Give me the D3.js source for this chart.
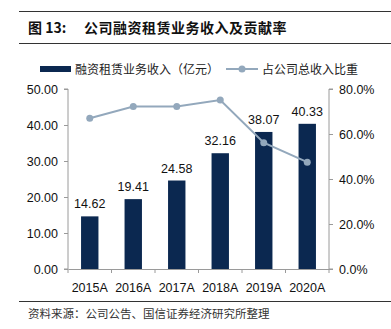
<!doctype html>
<html>
<head>
<script src="https://d3js.org/d3.v7.min.js"></script>
<style>
body { margin: 0; background: #fff; }
text { font-family: "Liberation Sans", Arial, sans-serif; }
.cjk { font-family: "Noto Sans CJK SC", sans-serif; }
</style>
</head>
<body>
<svg width="391" height="329"></svg>
<script>
// data
var years = ["2015A", "2016A", "2017A", "2018A", "2019A", "2020A"];
var revenue = [14.62, 19.41, 24.58, 32.16, 38.07, 40.33];
var share = [67.0, 72.2, 72.2, 75.1, 56.1, 47.5];
var leftTicks = [0, 10, 20, 30, 40, 50];
var rightTicks = [0, 20, 40, 60, 80];

var svg = d3.select("svg");
var plotL = 68, plotR = 329, plotT = 89, plotB = 269;
var navy = "#0b2850", lineCol = "#93a8bc", axisCol = "#9a9a9a";

// frame lines + title
svg.append("line").attr("x1", 19).attr("x2", 391).attr("y1", 11.5).attr("y2", 11.5)
  .attr("stroke", "#333").attr("stroke-width", 1);
svg.append("line").attr("x1", 19).attr("x2", 391).attr("y1", 43.5).attr("y2", 43.5)
  .attr("stroke", "#333").attr("stroke-width", 1);
svg.append("line").attr("x1", 19).attr("x2", 391).attr("y1", 301.5).attr("y2", 301.5)
  .attr("stroke", "#333").attr("stroke-width", 1);

svg.append("text").attr("class", "cjk").attr("x", 28).attr("y", 33)
  .style("font-size", "14px").style("font-weight", "bold").attr("fill", "#111")
  .text("图 13:");
svg.append("text").attr("class", "cjk").attr("x", 84).attr("y", 33)
  .style("font-size", "14px").style("font-weight", "bold").attr("fill", "#111")
  .style("letter-spacing", "0.5px")
  .text("公司融资租赁业务收入及贡献率");

svg.append("text").attr("class", "cjk").attr("x", 28).attr("y", 318)
  .style("font-size", "11.5px").attr("fill", "#333")
  .text("资料来源：公司公告、国信证券经济研究所整理");

// legend
svg.append("rect").attr("x", 40).attr("y", 66).attr("width", 31).attr("height", 6).attr("fill", navy);
svg.append("text").attr("class", "cjk").attr("x", 75).attr("y", 73.5)
  .style("font-size", "12px").attr("fill", "#222").text("融资租赁业务收入（亿元）");
svg.append("line").attr("x1", 226).attr("x2", 258).attr("y1", 69).attr("y2", 69)
  .attr("stroke", lineCol).attr("stroke-width", 2);
svg.append("circle").attr("cx", 242).attr("cy", 69).attr("r", 3.5).attr("fill", lineCol);
svg.append("text").attr("class", "cjk").attr("x", 262).attr("y", 73.5)
  .style("font-size", "12px").attr("fill", "#222").text("占公司总收入比重");

// scales
var x = d3.scaleBand().domain(years).range([plotL, plotR]).padding(0);
var yL = d3.scaleLinear().domain([0, 50]).range([plotB, plotT]);
var yR = d3.scaleLinear().domain([0, 80]).range([plotB, plotT]);
var barW = x.bandwidth() * 0.4;

// bars
svg.append("g").selectAll("rect").data(years).enter().append("rect")
  .attr("x", (d) => x(d) + x.bandwidth() / 2 - barW / 2)
  .attr("y", (d, i) => yL(revenue[i]))
  .attr("width", barW)
  .attr("height", (d, i) => plotB - yL(revenue[i]))
  .attr("fill", navy);

svg.append("g").selectAll("text").data(years).enter().append("text")
  .attr("x", (d) => x(d) + x.bandwidth() / 2)
  .attr("y", (d, i) => yL(revenue[i]) - 8)
  .attr("text-anchor", "middle")
  .style("font-size", "12.5px").attr("fill", "#111")
  .text((d, i) => revenue[i].toFixed(2));

// line
var line = d3.line()
  .x((d, i) => x(years[i]) + x.bandwidth() / 2)
  .y((d) => yR(d));
svg.append("path").datum(share).attr("d", line)
  .attr("fill", "none").attr("stroke", lineCol).attr("stroke-width", 2);
svg.append("g").selectAll("circle").data(share).enter().append("circle")
  .attr("cx", (d, i) => x(years[i]) + x.bandwidth() / 2)
  .attr("cy", (d) => yR(d))
  .attr("r", 3.5).attr("fill", lineCol);

// axes
var gL = svg.append("g").attr("transform", "translate(" + plotL + ",0)")
  .call(d3.axisLeft(yL).tickValues(leftTicks).tickFormat(d3.format(".2f")).tickSize(4).tickPadding(6));
var gR = svg.append("g").attr("transform", "translate(" + plotR + ",0)")
  .call(d3.axisRight(yR).tickValues(rightTicks).tickFormat((d) => d.toFixed(1) + "%").tickSize(4).tickPadding(6));
var gX = svg.append("g").attr("transform", "translate(0," + plotB + ")")
  .call(d3.axisBottom(x).tickSize(0).tickPadding(14));

// category separator ticks on the x axis
gX.append("g").selectAll("line").data(years.concat(["end"])).enter().append("line")
  .attr("x1", (d, i) => plotL + i * x.step()).attr("x2", (d, i) => plotL + i * x.step())
  .attr("y1", 0).attr("y2", 4).attr("stroke", axisCol);

[gL, gR, gX].forEach(function (g) {
  g.select(".domain").attr("stroke", axisCol);
  g.selectAll(".tick line").attr("stroke", axisCol);
  g.selectAll("text").style("font-size", "12.5px").attr("fill", "#111")
    .style("font-family", "'Liberation Sans', Arial, sans-serif");
});
gL.select(".domain").attr("d", "M-4," + plotT + "H0V" + plotB + "H-4");
gR.select(".domain").attr("d", "M4," + plotT + "H0V" + plotB + "H4");
</script>
</body>
</html>
